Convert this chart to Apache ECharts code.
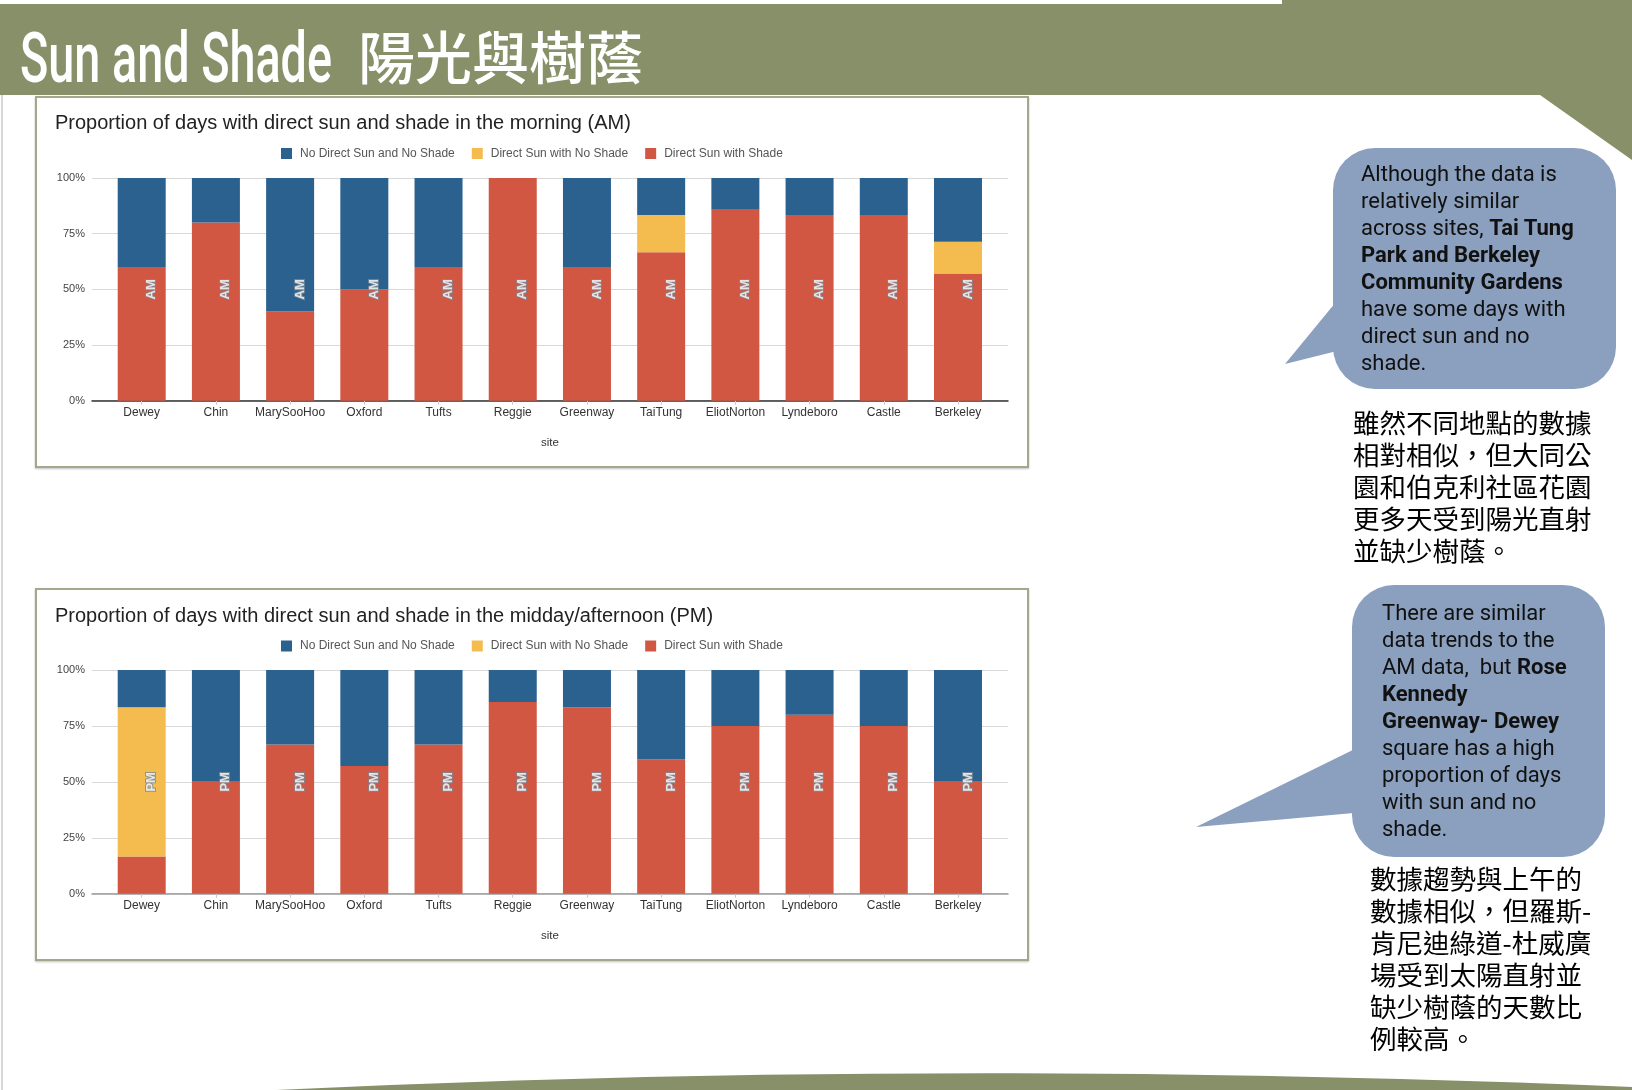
<!DOCTYPE html>
<html>
<head>
<meta charset="utf-8">
<script src="https://cdn.jsdelivr.net/npm/echarts/dist/echarts.min.js"></script>
<style>
html,body{margin:0;padding:0;background:#fff;}
#page{position:relative;width:1632px;height:1090px;overflow:hidden;background:#fff;}
.box{position:absolute;box-sizing:border-box;border:2px solid #a3a78b;background:#fff;box-shadow:0 1px 2px rgba(0,0,0,0.25);z-index:1;}
#chart{position:absolute;left:0;top:0;width:1632px;height:1090px;z-index:2;}
#deco{position:absolute;left:0;top:0;z-index:0;}
.bt{position:absolute;font-family:Roboto,'Noto Sans',sans-serif;font-size:22px;line-height:27px;color:#111;white-space:pre;z-index:3;}
.bt b{font-weight:700;}
.zh{position:absolute;font-family:'Noto Sans CJK TC',sans-serif;font-size:26.5px;line-height:32px;color:#000;white-space:nowrap;z-index:3;}
</style>
</head>
<body>
<div id="page">
  <svg id="deco" width="1632" height="1090" xmlns="http://www.w3.org/2000/svg">
    <polygon points="0,4 1282,4 1282,0 1632,0 1632,160 1540,95 0,95" fill="#879068"/>
    <line x1="2" y1="95" x2="2" y2="1090" stroke="#c9c9c9" stroke-width="1.5"/>
    <path d="M276,1090 Q950,1058 1632,1087 L1632,1090 Z" fill="#879068"/>
    <rect x="1333" y="148" width="283" height="241" rx="42" ry="42" fill="#8ba0be"/>
    <polygon points="1345,291 1285,364 1345,349" fill="#8ba0be"/>
    <rect x="1352" y="585" width="253" height="272" rx="42" ry="42" fill="#8ba0be"/>
    <polygon points="1365,744 1196,827 1365,812" fill="#8ba0be"/>
    <text x="20" y="81.7" font-family="Roboto, 'Noto Sans', sans-serif" font-weight="500" font-size="70" fill="#fff" textLength="312" lengthAdjust="spacingAndGlyphs">Sun and Shade</text>
    <text x="358" y="79" font-family="'Noto Sans CJK TC', sans-serif" font-weight="500" font-size="57" fill="#fff">陽光與樹蔭</text>
  </svg>
  <div class="box" style="left:35px;top:96px;width:994px;height:372px;"></div>
  <div class="box" style="left:35px;top:588px;width:994px;height:373px;"></div>
  <div id="chart"></div>
  <div class="bt" style="left:1361px;top:160px;">Although the data is
relatively similar
across sites, <b>Tai Tung</b>
<b>Park and Berkeley</b>
<b>Community Gardens</b>
have some days with
direct sun and no
shade.</div>
  <div class="zh" style="left:1353px;top:406px;">雖然不同地點的數據<br>相對相似，但大同公<br>園和伯克利社區花園<br>更多天受到陽光直射<br>並缺少樹蔭。</div>
  <div class="bt" style="left:1382px;top:599px;">There are similar
data trends to the
AM data,  but <b>Rose</b>
<b>Kennedy</b>
<b>Greenway- Dewey</b>
square has a high
proportion of days
with sun and no
shade.</div>
  <div class="zh" style="left:1370px;top:862px;">數據趨勢與上午的<br>數據相似，但羅斯-<br>肯尼迪綠道-杜威廣<br>場受到太陽直射並<br>缺少樹蔭的天數比<br>例較高。</div>
</div>
<script>
// ---- data ----
const sites = ['Dewey','Chin','MarySooHoo','Oxford','Tufts','Reggie','Greenway','TaiTung','EliotNorton','Lyndeboro','Castle','Berkeley'];
const seriesNames = ['No Direct Sun and No Shade','Direct Sun with No Shade','Direct Sun with Shade'];

const amShade      = [60, 80, 40, 50, 60, 100, 60, 66.67, 85.71, 83.33, 83.33, 57.14];
const amSunNoShade = [0, 0, 0, 0, 0, 0, 0, 16.67, 0, 0, 0, 14.29];
const amNoSun      = [40, 20, 60, 50, 40, 0, 40, 16.66, 14.29, 16.67, 16.67, 28.57];

const pmShade      = [16.67, 50, 66.67, 57.14, 66.67, 85.71, 83.33, 60, 75, 80, 75, 50];
const pmSunNoShade = [66.67, 0, 0, 0, 0, 0, 0, 0, 0, 0, 0, 0];
const pmNoSun      = [16.66, 50, 33.33, 42.86, 33.33, 14.29, 16.67, 40, 25, 20, 25, 50];

const yTicks = [0, 25, 50, 75, 100];
const sessionTags = ['AM', 'PM'];
const tagLevel = 50;
const titles = [
  'Proportion of days with direct sun and shade in the morning (AM)',
  'Proportion of days with direct sun and shade in the midday/afternoon (PM)'
];

// ---- styling / layout ----
const colNoSun = '#2b618f', colSunNoShade = '#f4bc4e', colShade = '#d15743';
const FONT = "'Liberation Sans', Arial, sans-serif";

const panels = [
  { top: 178, height: 222.7, titleTop: 113.5, legendTop: 147.5, axisColor: '#333',
    data: [amShade, amSunNoShade, amNoSun], tag: sessionTags[0] },
  { top: 670, height: 223.7, titleTop: 606.5, legendTop: 640, axisColor: '#9a9a9a',
    data: [pmShade, pmSunNoShade, pmNoSun], tag: sessionTags[1] }
];

const option = {
  animation: false,
  title: [], legend: [], grid: [], xAxis: [], yAxis: [], series: []
};

panels.forEach((p, i) => {
  option.title.push({
    text: titles[i], left: 55, top: p.titleTop, padding: 0,
    textStyle: { fontFamily: FONT, fontSize: 20, fontWeight: 'normal', color: '#222' }
  });
  option.legend.push({
    data: seriesNames, left: 281, top: p.legendTop, padding: 0,
    icon: 'rect', itemWidth: 11, itemHeight: 11, itemGap: 17,
    textStyle: { fontFamily: FONT, fontSize: 12, color: '#555', padding: [0, 0, 0, 3] },
    selectedMode: false
  });
  const gBg = option.grid.length;
  option.grid.push({ left: 92, top: p.top, width: 916, height: p.height, outerBoundsMode: 'none', containLabel: false });
  option.grid.push({ left: 104.6, top: p.top, width: 890.5, height: p.height, outerBoundsMode: 'none', containLabel: false });
  const gBar = gBg + 1;

  option.xAxis.push({
    gridIndex: gBg, type: 'value', min: 0, max: 1,
    axisLine: { show: true, lineStyle: { color: p.axisColor, width: 1.5 } },
    axisTick: { show: false }, axisLabel: { show: false }, splitLine: { show: false }
  });
  option.xAxis.push({
    gridIndex: gBar, type: 'category', data: sites,
    axisLine: { show: false },
    axisTick: { show: true, alignWithLabel: true, interval: 0, length: 4, lineStyle: { color: '#c8c8c8' } },
    axisLabel: { fontFamily: FONT, fontSize: 12, color: '#333', margin: 6, interval: 0, hideOverlap: false },
    name: 'site', nameLocation: 'middle', nameGap: 36,
    nameTextStyle: { fontFamily: FONT, fontSize: 11.5, color: '#333' }
  });
  option.yAxis.push({
    gridIndex: gBg, type: 'value', min: yTicks[0], max: yTicks[yTicks.length - 1], interval: yTicks[1] - yTicks[0],
    axisLine: { show: false }, axisTick: { show: false },
    axisLabel: { fontFamily: FONT, fontSize: 11, color: '#444', margin: 7, formatter: v => v + '%' },
    splitLine: { show: true, lineStyle: { color: '#d9d9d9', width: 1 } }
  });
  option.yAxis.push({ gridIndex: gBar, type: 'value', min: 0, max: 100, show: false });

  const cols = [colShade, colSunNoShade, colNoSun];
  const names = [seriesNames[2], seriesNames[1], seriesNames[0]];
  p.data.forEach((arr, k) => {
    option.series.push({
      type: 'bar', name: names[k], stack: 'st' + i,
      xAxisIndex: gBar, yAxisIndex: gBar,
      data: arr, barWidth: 48,
      itemStyle: { color: cols[k] },
      emphasis: { disabled: true }, silent: true
    });
  });
  option.series.push({
    type: 'scatter', name: 'tag' + i, xAxisIndex: gBar, yAxisIndex: gBar,
    data: sites.map(() => tagLevel), symbolSize: 1,
    itemStyle: { color: 'rgba(0,0,0,0)' }, z: 5, silent: true,
    label: {
      show: true, position: 'inside', formatter: p.tag, rotate: 90, offset: [0, 10],
      fontFamily: FONT, fontSize: 13, fontWeight: 'bold', color: '#fff',
      textBorderColor: '#7d8893', textBorderWidth: 2
    }
  });
});

const chart = echarts.init(document.getElementById('chart'), null, { renderer: 'canvas' });
chart.setOption(option);
</script>
</body>
</html>
